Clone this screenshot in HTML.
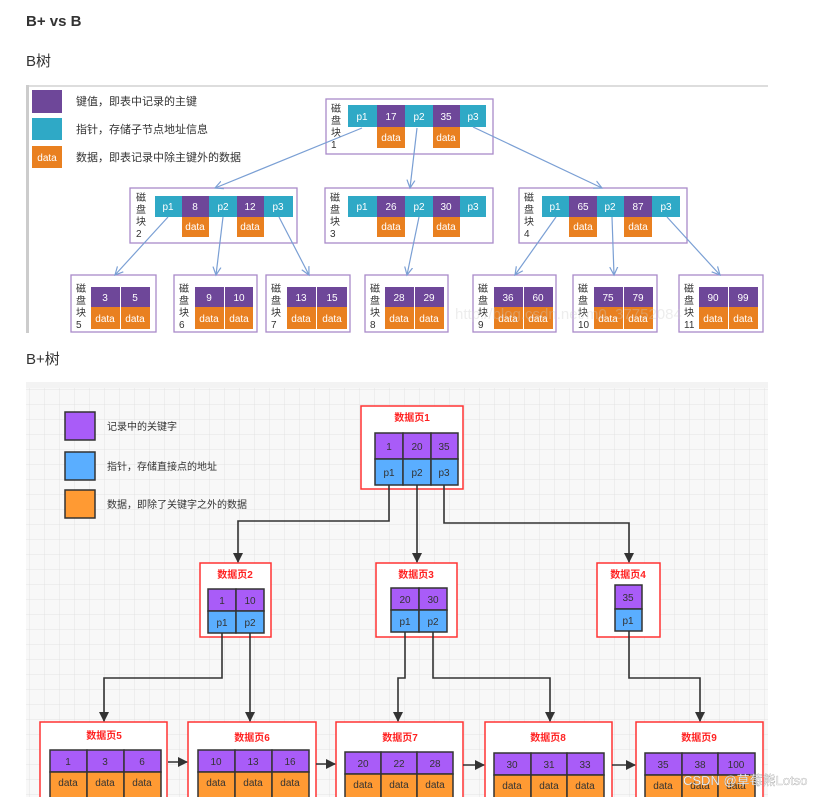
<!DOCTYPE html>
<html><head><meta charset="utf-8"><style>
html,body{margin:0;padding:0;background:#fff;width:832px;height:797px;overflow:hidden}
svg text{font-family:"Liberation Sans","Noto Sans CJK SC",sans-serif}
</style></head><body>
<svg width="832" height="797" viewBox="0 0 832 797" xmlns="http://www.w3.org/2000/svg">
<defs>
<pattern id="g" width="15" height="15" patternUnits="userSpaceOnUse"><path d="M15 0V15H0" fill="none" stroke="#e3e3e3" stroke-width="1"/></pattern>
<marker id="ab" markerWidth="10" markerHeight="10" refX="8" refY="5" orient="auto" markerUnits="userSpaceOnUse"><path d="M0,1 L8,5 L0,9" fill="none" stroke="#7a9fd4" stroke-width="1.2"/></marker>
<marker id="ad" markerWidth="10" markerHeight="12" refX="9" refY="5" orient="auto" markerUnits="userSpaceOnUse"><path d="M0,0 L10,5 L0,10 Z" fill="#333"/></marker>
</defs>
<text x="26" y="26" font-size="15" font-weight="bold" fill="#333">B+ vs B</text>
<text x="26" y="66" font-size="15" fill="#333">B树</text>
<text x="26" y="364" font-size="15" fill="#333">B+树</text>

<rect x="26" y="85" width="742" height="248" fill="#fff"/>
<rect x="26" y="85" width="742" height="2" fill="#ddd"/>
<rect x="26" y="85" width="3" height="248" fill="#ccc"/>
<g font-size="11" fill="#333">
<rect x="32" y="90" width="30" height="23" fill="#6e4799"/><text x="76" y="105">键值，即表中记录的主键</text>
<rect x="32" y="118" width="30" height="22" fill="#2fa9c6"/><text x="76" y="133">指针，存储子节点地址信息</text>
<rect x="32" y="146" width="30" height="22" fill="#e98020"/><text x="47" y="161" text-anchor="middle" fill="#fff" font-size="10">data</text><text x="76" y="161">数据，即表记录中除主键外的数据</text>
</g>
<g fill="none" stroke="#a98ac9" stroke-width="1.3">
<rect x="326" y="99" width="167" height="55"/>
<rect x="130" y="188" width="167" height="55"/>
<rect x="325" y="188" width="168" height="55"/>
<rect x="519" y="188" width="168" height="55"/>
<rect x="71" y="275" width="85" height="57"/>
<rect x="174" y="275" width="83" height="57"/>
<rect x="266" y="275" width="84" height="57"/>
<rect x="365" y="275" width="83" height="57"/>
<rect x="473" y="275" width="83" height="57"/>
<rect x="573" y="275" width="84" height="57"/>
<rect x="679" y="275" width="84" height="57"/>
</g>
<g font-size="10" fill="#333">
<text x="331" y="112">磁</text><text x="331" y="124">盘</text><text x="331" y="136">块</text><text x="331" y="148">1</text>
<text x="136" y="201">磁</text><text x="136" y="213">盘</text><text x="136" y="225">块</text><text x="136" y="237">2</text>
<text x="330" y="201">磁</text><text x="330" y="213">盘</text><text x="330" y="225">块</text><text x="330" y="237">3</text>
<text x="524" y="201">磁</text><text x="524" y="213">盘</text><text x="524" y="225">块</text><text x="524" y="237">4</text>
<text x="76" y="292">磁</text><text x="76" y="304">盘</text><text x="76" y="316">块</text><text x="76" y="328">5</text>
<text x="179" y="292">磁</text><text x="179" y="304">盘</text><text x="179" y="316">块</text><text x="179" y="328">6</text>
<text x="271" y="292">磁</text><text x="271" y="304">盘</text><text x="271" y="316">块</text><text x="271" y="328">7</text>
<text x="370" y="292">磁</text><text x="370" y="304">盘</text><text x="370" y="316">块</text><text x="370" y="328">8</text>
<text x="478" y="292">磁</text><text x="478" y="304">盘</text><text x="478" y="316">块</text><text x="478" y="328">9</text>
<text x="578" y="292">磁</text><text x="578" y="304">盘</text><text x="578" y="316">块</text><text x="578" y="328">10</text>
<text x="684" y="292">磁</text><text x="684" y="304">盘</text><text x="684" y="316">块</text><text x="684" y="328">11</text>
</g>
<g font-size="10" fill="#fff" text-anchor="middle">
<rect x="348" y="105" width="29" height="22" fill="#2fa9c6"/><text x="362" y="120">p1</text>
<rect x="377" y="105" width="28" height="22" fill="#6e4799"/><text x="391" y="120">17</text>
<rect x="405" y="105" width="28" height="22" fill="#2fa9c6"/><text x="419" y="120">p2</text>
<rect x="433" y="105" width="27" height="22" fill="#6e4799"/><text x="446" y="120">35</text>
<rect x="460" y="105" width="26" height="22" fill="#2fa9c6"/><text x="473" y="120">p3</text>
<rect x="377" y="127" width="28" height="21" fill="#e98020"/><text x="391" y="141">data</text>
<rect x="433" y="127" width="27" height="21" fill="#e98020"/><text x="446" y="141">data</text>
<rect x="155" y="196" width="27" height="21" fill="#2fa9c6"/><text x="168" y="210">p1</text>
<rect x="182" y="196" width="27" height="21" fill="#6e4799"/><text x="195" y="210">8</text>
<rect x="209" y="196" width="28" height="21" fill="#2fa9c6"/><text x="223" y="210">p2</text>
<rect x="237" y="196" width="27" height="21" fill="#6e4799"/><text x="250" y="210">12</text>
<rect x="264" y="196" width="29" height="21" fill="#2fa9c6"/><text x="278" y="210">p3</text>
<rect x="182" y="217" width="27" height="20" fill="#e98020"/><text x="195" y="230">data</text>
<rect x="237" y="217" width="27" height="20" fill="#e98020"/><text x="250" y="230">data</text>
<rect x="348" y="196" width="29" height="21" fill="#2fa9c6"/><text x="362" y="210">p1</text>
<rect x="377" y="196" width="28" height="21" fill="#6e4799"/><text x="391" y="210">26</text>
<rect x="405" y="196" width="28" height="21" fill="#2fa9c6"/><text x="419" y="210">p2</text>
<rect x="433" y="196" width="27" height="21" fill="#6e4799"/><text x="446" y="210">30</text>
<rect x="460" y="196" width="26" height="21" fill="#2fa9c6"/><text x="473" y="210">p3</text>
<rect x="377" y="217" width="28" height="20" fill="#e98020"/><text x="391" y="230">data</text>
<rect x="433" y="217" width="27" height="20" fill="#e98020"/><text x="446" y="230">data</text>
<rect x="542" y="196" width="27" height="21" fill="#2fa9c6"/><text x="555" y="210">p1</text>
<rect x="569" y="196" width="28" height="21" fill="#6e4799"/><text x="583" y="210">65</text>
<rect x="597" y="196" width="27" height="21" fill="#2fa9c6"/><text x="610" y="210">p2</text>
<rect x="624" y="196" width="28" height="21" fill="#6e4799"/><text x="638" y="210">87</text>
<rect x="652" y="196" width="28" height="21" fill="#2fa9c6"/><text x="666" y="210">p3</text>
<rect x="569" y="217" width="28" height="20" fill="#e98020"/><text x="583" y="230">data</text>
<rect x="624" y="217" width="28" height="20" fill="#e98020"/><text x="638" y="230">data</text>
</g>
<g font-size="10" fill="#fff" text-anchor="middle">
<g><rect x="91" y="287" width="29" height="20" fill="#6e4799"/><text x="105" y="301">3</text><rect x="121" y="287" width="29" height="20" fill="#6e4799"/><text x="135" y="301">5</text><rect x="91" y="307" width="29" height="22" fill="#e98020"/><text x="105" y="322">data</text><rect x="121" y="307" width="29" height="22" fill="#e98020"/><text x="135" y="322">data</text></g>
<g><rect x="195" y="287" width="29" height="20" fill="#6e4799"/><text x="209" y="301">9</text><rect x="225" y="287" width="28" height="20" fill="#6e4799"/><text x="239" y="301">10</text><rect x="195" y="307" width="29" height="22" fill="#e98020"/><text x="209" y="322">data</text><rect x="225" y="307" width="28" height="22" fill="#e98020"/><text x="239" y="322">data</text></g>
<g><rect x="287" y="287" width="29" height="20" fill="#6e4799"/><text x="301" y="301">13</text><rect x="317" y="287" width="30" height="20" fill="#6e4799"/><text x="332" y="301">15</text><rect x="287" y="307" width="29" height="22" fill="#e98020"/><text x="301" y="322">data</text><rect x="317" y="307" width="30" height="22" fill="#e98020"/><text x="332" y="322">data</text></g>
<g><rect x="385" y="287" width="29" height="20" fill="#6e4799"/><text x="399" y="301">28</text><rect x="415" y="287" width="29" height="20" fill="#6e4799"/><text x="429" y="301">29</text><rect x="385" y="307" width="29" height="22" fill="#e98020"/><text x="399" y="322">data</text><rect x="415" y="307" width="29" height="22" fill="#e98020"/><text x="429" y="322">data</text></g>
<g><rect x="494" y="287" width="29" height="20" fill="#6e4799"/><text x="508" y="301">36</text><rect x="524" y="287" width="29" height="20" fill="#6e4799"/><text x="538" y="301">60</text><rect x="494" y="307" width="29" height="22" fill="#e98020"/><text x="508" y="322">data</text><rect x="524" y="307" width="29" height="22" fill="#e98020"/><text x="538" y="322">data</text></g>
<g><rect x="594" y="287" width="29" height="20" fill="#6e4799"/><text x="608" y="301">75</text><rect x="624" y="287" width="29" height="20" fill="#6e4799"/><text x="638" y="301">79</text><rect x="594" y="307" width="29" height="22" fill="#e98020"/><text x="608" y="322">data</text><rect x="624" y="307" width="29" height="22" fill="#e98020"/><text x="638" y="322">data</text></g>
<g><rect x="699" y="287" width="29" height="20" fill="#6e4799"/><text x="713" y="301">90</text><rect x="729" y="287" width="29" height="20" fill="#6e4799"/><text x="743" y="301">99</text><rect x="699" y="307" width="29" height="22" fill="#e98020"/><text x="713" y="322">data</text><rect x="729" y="307" width="29" height="22" fill="#e98020"/><text x="743" y="322">data</text></g>
</g>
<g stroke="#7a9fd4" stroke-width="1.2" fill="none" marker-end="url(#ab)">
<line x1="362" y1="128" x2="215" y2="188"/>
<line x1="417" y1="128" x2="410" y2="188"/>
<line x1="473" y1="127" x2="602" y2="188"/>
<line x1="168" y1="217" x2="115" y2="275"/>
<line x1="223" y1="217" x2="216" y2="275"/>
<line x1="279" y1="217" x2="309" y2="275"/>
<line x1="419" y1="217" x2="407" y2="275"/>
<line x1="556" y1="217" x2="515" y2="275"/>
<line x1="612" y1="217" x2="614" y2="275"/>
<line x1="667" y1="217" x2="720" y2="275"/>
</g>
<text x="455" y="319" font-size="15" fill="#ccc" fill-opacity="0.35" font-family="Liberation Serif,serif">http://blog.csdn.net/m0_37752084</text>

<rect x="26" y="382" width="742" height="415" fill="#f8f8f8"/>
<rect x="26" y="382" width="742" height="415" fill="url(#g)"/>
<rect x="26" y="382" width="742" height="6" fill="#f3f3f3"/>
<g stroke="#333" stroke-width="1.5">
<rect x="65" y="412" width="30" height="28" fill="#a95cf8"/>
<rect x="65" y="452" width="30" height="28" fill="#5aaeff"/>
<rect x="65" y="490" width="30" height="28" fill="#ff9a33"/>
</g>
<g font-size="10" fill="#333"><text x="107" y="430">记录中的关键字</text><text x="107" y="470">指针，存储直接点的地址</text><text x="107" y="508">数据，即除了关键字之外的数据</text></g>
<g fill="#fff" stroke="#f33" stroke-width="1.5">
<rect x="361" y="406" width="102" height="83"/>
<rect x="200" y="563" width="71" height="74"/>
<rect x="376" y="563" width="81" height="74"/>
<rect x="597" y="563" width="63" height="74"/>
<rect x="40" y="722" width="127" height="80"/>
<rect x="188" y="722" width="128" height="80"/>
<rect x="336" y="722" width="127" height="80"/>
<rect x="485" y="722" width="127" height="80"/>
<rect x="636" y="722" width="127" height="80"/>
</g>
<g font-size="10" font-weight="bold" fill="#f22" text-anchor="middle">
<text x="412" y="421">数据页1</text><text x="235" y="578">数据页2</text><text x="416" y="578">数据页3</text><text x="628" y="578">数据页4</text>
<text x="104" y="739">数据页5</text><text x="252" y="741">数据页6</text><text x="400" y="741">数据页7</text><text x="548" y="741">数据页8</text><text x="699" y="741">数据页9</text>
</g>
<g stroke="#333" stroke-width="1.5" font-size="10" text-anchor="middle">
<rect x="375" y="433" width="28" height="26" fill="#a95cf8"/><rect x="403" y="433" width="28" height="26" fill="#a95cf8"/><rect x="431" y="433" width="27" height="26" fill="#a95cf8"/>
<rect x="375" y="459" width="28" height="26" fill="#5aaeff"/><rect x="403" y="459" width="28" height="26" fill="#5aaeff"/><rect x="431" y="459" width="27" height="26" fill="#5aaeff"/>
<rect x="208" y="589" width="28" height="22" fill="#a95cf8"/><rect x="236" y="589" width="28" height="22" fill="#a95cf8"/>
<rect x="208" y="611" width="28" height="22" fill="#5aaeff"/><rect x="236" y="611" width="28" height="22" fill="#5aaeff"/>
<rect x="391" y="588" width="28" height="22" fill="#a95cf8"/><rect x="419" y="588" width="28" height="22" fill="#a95cf8"/>
<rect x="391" y="610" width="28" height="22" fill="#5aaeff"/><rect x="419" y="610" width="28" height="22" fill="#5aaeff"/>
<rect x="615" y="585" width="27" height="24" fill="#a95cf8"/><rect x="615" y="609" width="27" height="22" fill="#5aaeff"/>
</g>
<g font-size="10" fill="#333" text-anchor="middle">
<text x="389" y="450">1</text><text x="417" y="450">20</text><text x="444" y="450">35</text>
<text x="389" y="476">p1</text><text x="417" y="476">p2</text><text x="444" y="476">p3</text>
<text x="222" y="604">1</text><text x="250" y="604">10</text><text x="222" y="626">p1</text><text x="250" y="626">p2</text>
<text x="405" y="603">20</text><text x="433" y="603">30</text><text x="405" y="625">p1</text><text x="433" y="625">p2</text>
<text x="628" y="601">35</text><text x="628" y="624">p1</text>
</g>
<g stroke="#333" stroke-width="1.5">
<g fill="#a95cf8">
<rect x="50" y="750" width="37" height="22"/><rect x="87" y="750" width="37" height="22"/><rect x="124" y="750" width="37" height="22"/>
<rect x="198" y="750" width="37" height="22"/><rect x="235" y="750" width="37" height="22"/><rect x="272" y="750" width="37" height="22"/>
<rect x="345" y="752" width="36" height="22"/><rect x="381" y="752" width="36" height="22"/><rect x="417" y="752" width="36" height="22"/>
<rect x="494" y="753" width="37" height="22"/><rect x="531" y="753" width="36" height="22"/><rect x="567" y="753" width="37" height="22"/>
<rect x="645" y="753" width="37" height="22"/><rect x="682" y="753" width="36" height="22"/><rect x="718" y="753" width="37" height="22"/>
</g>
<g fill="#ff9a33">
<rect x="50" y="772" width="37" height="30"/><rect x="87" y="772" width="37" height="30"/><rect x="124" y="772" width="37" height="30"/>
<rect x="198" y="772" width="37" height="30"/><rect x="235" y="772" width="37" height="30"/><rect x="272" y="772" width="37" height="30"/>
<rect x="345" y="774" width="36" height="30"/><rect x="381" y="774" width="36" height="30"/><rect x="417" y="774" width="36" height="30"/>
<rect x="494" y="775" width="37" height="30"/><rect x="531" y="775" width="36" height="30"/><rect x="567" y="775" width="37" height="30"/>
<rect x="645" y="775" width="37" height="30"/><rect x="682" y="775" width="36" height="30"/><rect x="718" y="775" width="37" height="30"/>
</g>
</g>
<g font-size="10" fill="#333" text-anchor="middle">
<text x="68" y="765">1</text><text x="105" y="765">3</text><text x="142" y="765">6</text>
<text x="216" y="765">10</text><text x="253" y="765">13</text><text x="290" y="765">16</text>
<text x="363" y="767">20</text><text x="399" y="767">22</text><text x="435" y="767">28</text>
<text x="512" y="768">30</text><text x="549" y="768">31</text><text x="585" y="768">33</text>
<text x="663" y="768">35</text><text x="700" y="768">38</text><text x="736" y="768">100</text>
<text x="68" y="786">data</text><text x="105" y="786">data</text><text x="142" y="786">data</text>
<text x="216" y="786">data</text><text x="253" y="786">data</text><text x="290" y="786">data</text>
<text x="363" y="788">data</text><text x="399" y="788">data</text><text x="435" y="788">data</text>
<text x="512" y="789">data</text><text x="549" y="789">data</text><text x="585" y="789">data</text>
<text x="663" y="789">data</text><text x="700" y="789">data</text><text x="736" y="789">data</text>
</g>
<g stroke="#333" stroke-width="1.6" fill="none" marker-end="url(#ad)">
<polyline points="389,485 389,521 238,521 238,562"/>
<polyline points="417,485 417,562"/>
<polyline points="444,485 444,523 629,523 629,562"/>
<polyline points="222,633 222,678 104,678 104,721"/>
<polyline points="250,633 250,721"/>
<polyline points="405,632 405,678 398,678 398,721"/>
<polyline points="433,632 433,678 550,678 550,721"/>
<polyline points="629,631 629,678 700,678 700,721"/>
<line x1="168" y1="762" x2="187" y2="762"/>
<line x1="316" y1="764" x2="335" y2="764"/>
<line x1="463" y1="765" x2="484" y2="765"/>
<line x1="612" y1="765" x2="635" y2="765"/>
</g>
<text x="683" y="785" font-size="13" fill="#fff" stroke="#999" stroke-width="0.3">CSDN @草莓熊Lotso</text>
</svg>
</body></html>
